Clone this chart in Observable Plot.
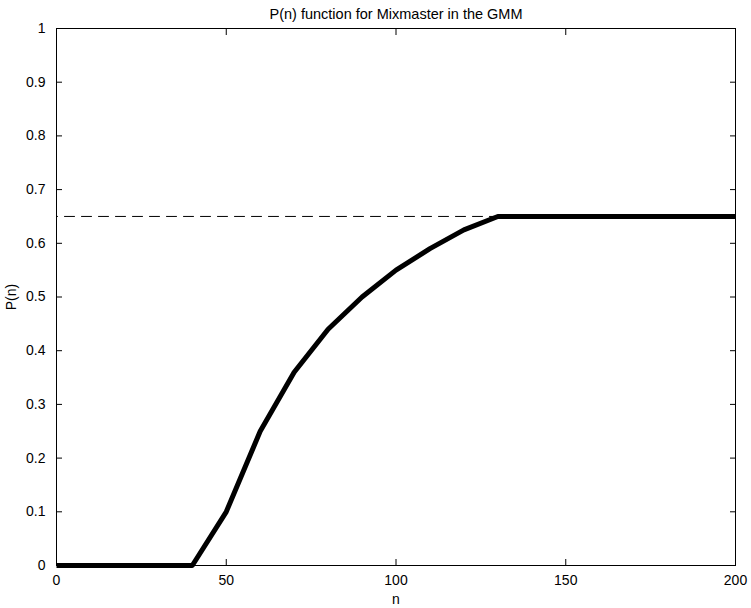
<!DOCTYPE html>
<html>
<head>
<meta charset="utf-8">
<script src="https://cdn.jsdelivr.net/npm/d3@7"></script>
<script src="https://cdn.jsdelivr.net/npm/@observablehq/plot@0.6"></script>
<style>
  html, body { margin: 0; padding: 0; background: #fff; }
  #chart svg { display: block; }
</style>
</head>
<body>
<div id="chart"></div>
<script>
const title = "P(n) function for Mixmaster in the GMM";
const nValues = [0, 10, 20, 30, 40, 50, 60, 70, 80, 90, 100, 110, 120, 130, 140, 150, 160, 170, 180, 190, 200];
const pValues = [0, 0, 0, 0, 0, 0.1, 0.25, 0.36, 0.44, 0.5, 0.55, 0.59, 0.625, 0.65, 0.65, 0.65, 0.65, 0.65, 0.65, 0.65, 0.65];
const asymptoteN = [0, 130];
const asymptoteP = [0.65, 0.65];
const xTicks = [0, 50, 100, 150, 200];
const yTicks = [0, 0.1, 0.2, 0.3, 0.4, 0.5, 0.6, 0.7, 0.8, 0.9, 1];

const curve = nValues.map((n, i) => ({n, p: pValues[i]}));
const asym = asymptoteN.map((n, i) => ({n, p: asymptoteP[i]}));

const yFmt = d => d === 0 ? "0" : d === 1 ? "1" : String(d);

const chart = Plot.plot({
  width: 751,
  height: 608,
  marginLeft: 56,
  marginRight: 16,
  marginTop: 28,
  marginBottom: 43,
  style: {fontFamily: "'Liberation Sans', Arial, Helvetica, sans-serif", fontSize: "14px", color: "#000", background: "#fff"},
  x: {domain: [0, 200]},
  y: {domain: [0, 1]},
  marks: [
    Plot.frame({stroke: "#000", strokeWidth: 1}),
    Plot.axisX({anchor: "bottom", ticks: xTicks, tickSize: -6, tickPadding: 16, tickFormat: d => String(d), label: "n", labelAnchor: "center", labelArrow: "none", labelOffset: 38, fontSize: 14}),
    Plot.axisX({anchor: "top", ticks: xTicks, tickSize: -6, tickFormat: () => "", label: null}),
    Plot.axisY({anchor: "left", ticks: yTicks, tickSize: -6, tickPadding: 17, tickFormat: yFmt, label: "P(n)", labelAnchor: "center", labelArrow: "none", labelOffset: 50, fontSize: 14}),
    Plot.axisY({anchor: "right", ticks: yTicks, tickSize: -6, tickFormat: () => "", label: null}),
    Plot.line(asym, {x: "n", y: "p", stroke: "#000", strokeWidth: 1, strokeDasharray: "10,7", strokeDashoffset: -8}),
    Plot.line(curve, {x: "n", y: "p", stroke: "#000", strokeWidth: 5, strokeLinejoin: "round", strokeLinecap: "butt"}),
    Plot.text([title], {frameAnchor: "top", dy: -14.5, text: d => d, fontSize: 14.5, lineAnchor: "middle"})
  ]
});
document.getElementById("chart").appendChild(chart);
</script>
</body>
</html>
